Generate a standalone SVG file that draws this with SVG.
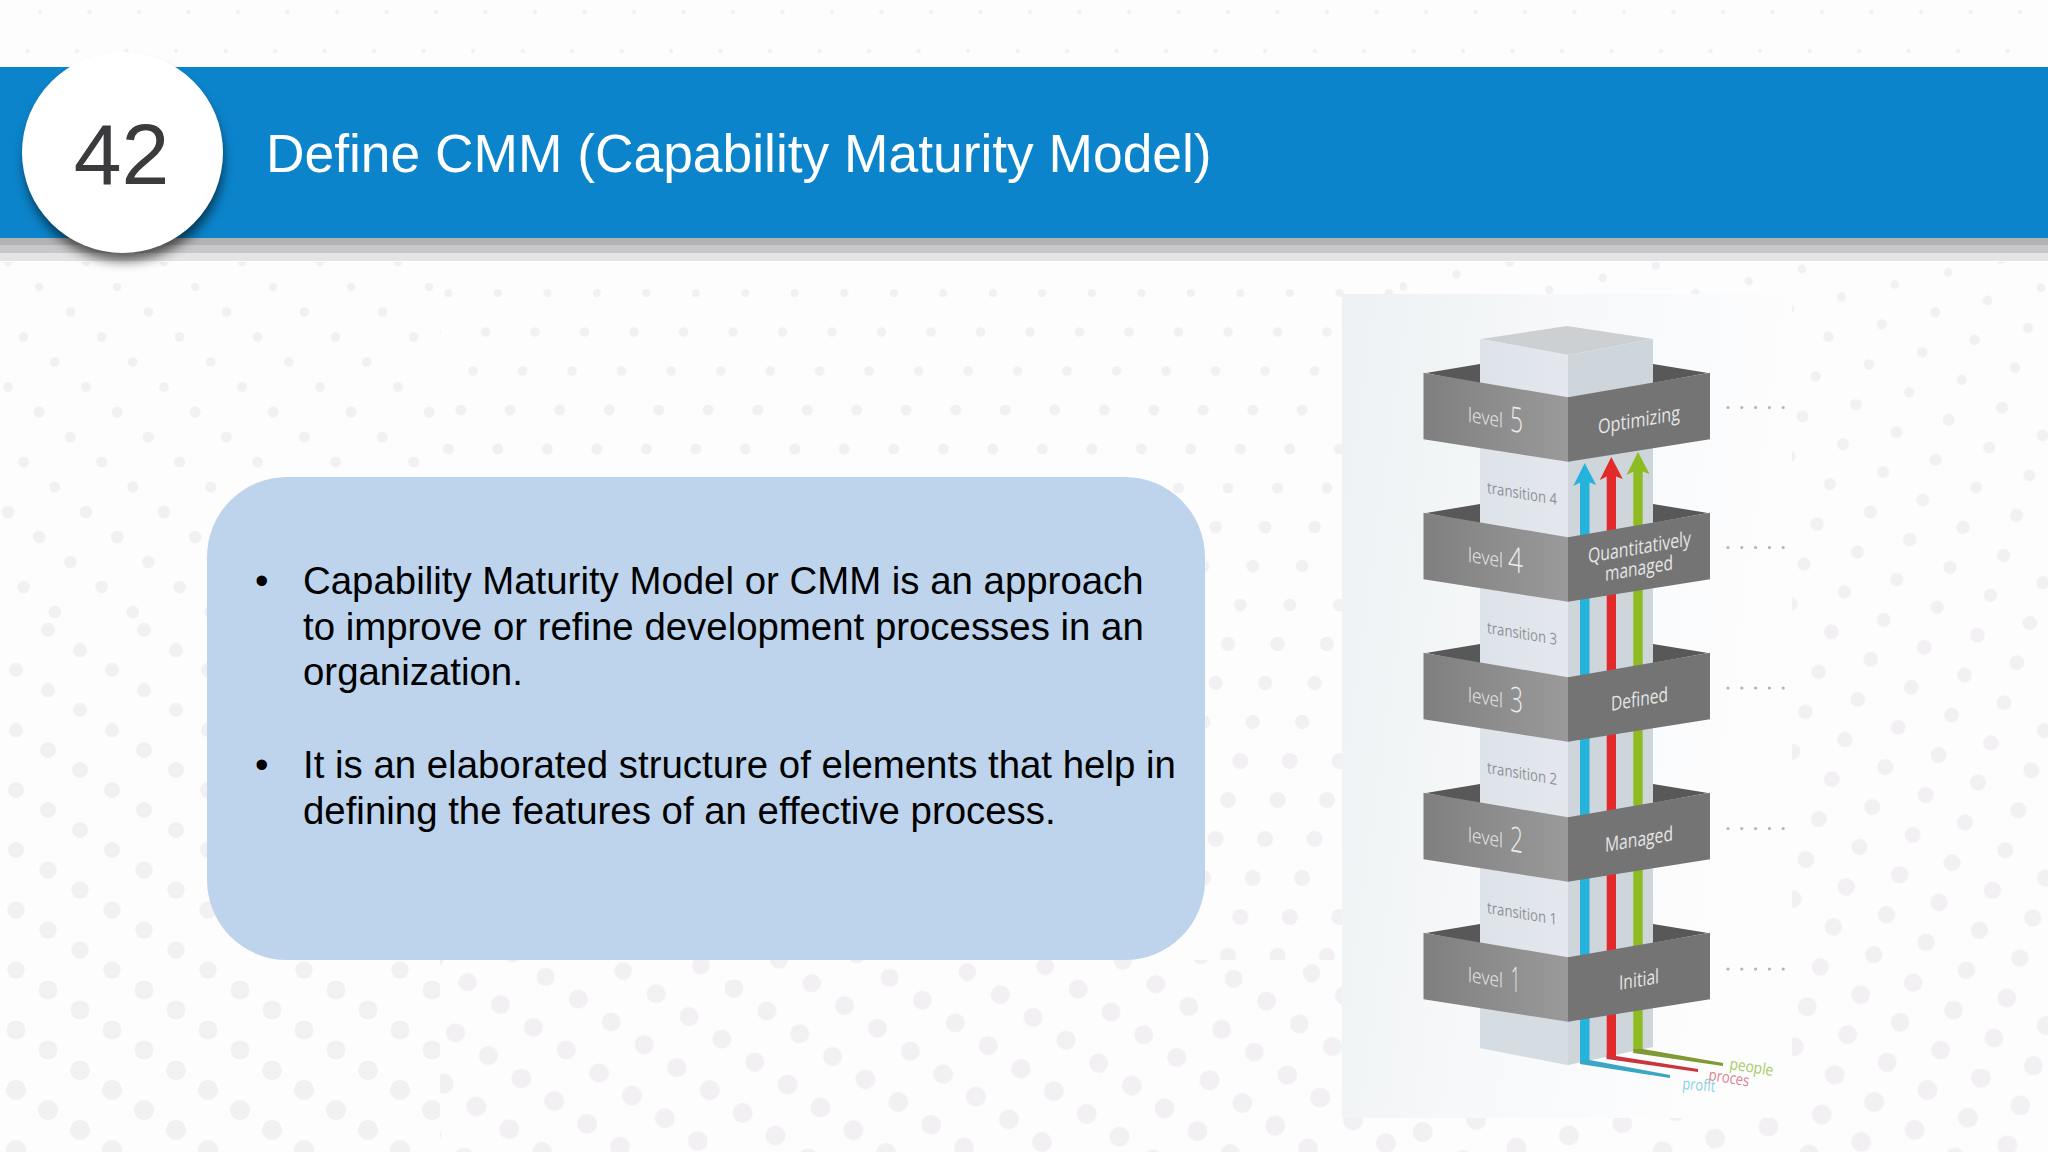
<svg xmlns="http://www.w3.org/2000/svg" width="2048" height="1152" viewBox="0 0 2048 1152">
<style>
.sans{font-family:"Liberation Sans",Arial,sans-serif}
.ui{font-family:"Open Sans","Noto Sans",sans-serif}
.d{r:var(--r);fill:#f2f0f3}
.body{font-size:38.4px;fill:#000}
.lv{font-size:20px;fill:#ececec;font-weight:300}
.num{font-size:35px;fill:#ececec;font-weight:300}
.st{font-size:20px;fill:#e6e6e6}
.tr{font-size:16px;fill:#8d9297}
.leader{stroke:#b4b4b4;stroke-width:3.2;stroke-linecap:round;stroke-dasharray:0 13.8;fill:none}
.back{fill:#585858}
.lf{fill:url(#lf)}
.rf{fill:#747474}
</style>
<defs>
<g id="tC"><circle class="d" cx="40" cy="20"/><circle class="d" cx="-9.5" cy="20"/><circle class="d" cx="27.6" cy="59"/><circle class="d" cx="15.2" cy="98"/><circle class="d" cx="2.8" cy="137"/><circle class="d" cx="52.3" cy="137"/></g>
<g id="tU"><circle class="d" cx="8" cy="12"/><circle class="d" cx="86" cy="12"/><circle class="d" cx="39.2" cy="37"/><circle class="d" cx="70.4" cy="62"/><circle class="d" cx="-7.6" cy="62"/><circle class="d" cx="23.6" cy="87"/><circle class="d" cx="54.8" cy="112"/></g>
<g id="tL"><circle class="d" cx="16" cy="10"/><circle class="d" cx="48" cy="30"/><circle class="d" cx="80" cy="50"/></g>
<g id="tR"><circle class="d" cx="23" cy="7"/><circle class="d" cx="23" cy="49"/><circle class="d" cx="70" cy="21"/><circle class="d" cx="117" cy="35"/><circle class="d" cx="117" cy="-7"/></g>
<pattern id="c0" width="49.5" height="156" patternUnits="userSpaceOnUse" patternTransform="translate(0 -8)" style="--r:2.2px"><use href="#tC"/></pattern>
<pattern id="c1" width="49.5" height="156" patternUnits="userSpaceOnUse" style="--r:4px"><use href="#tC"/></pattern>
<pattern id="c2" width="49.5" height="156" patternUnits="userSpaceOnUse" style="--r:4.8px"><use href="#tC"/></pattern>
<pattern id="c3" width="49.5" height="156" patternUnits="userSpaceOnUse" style="--r:5.5px"><use href="#tC"/></pattern>
<pattern id="c4" width="49.5" height="156" patternUnits="userSpaceOnUse" style="--r:6.3px"><use href="#tC"/></pattern>
<pattern id="c5" width="49.5" height="156" patternUnits="userSpaceOnUse" style="--r:7.2px"><use href="#tC"/></pattern>
<pattern id="c6" width="49.5" height="156" patternUnits="userSpaceOnUse" style="--r:8px"><use href="#tC"/></pattern>
<pattern id="u1" width="78" height="125" patternUnits="userSpaceOnUse" style="--r:4.2px"><use href="#tU"/></pattern>
<pattern id="u2" width="78" height="125" patternUnits="userSpaceOnUse" style="--r:4.8px"><use href="#tU"/></pattern>
<pattern id="u3" width="78" height="125" patternUnits="userSpaceOnUse" style="--r:5.5px"><use href="#tU"/></pattern>
<pattern id="u4" width="78" height="125" patternUnits="userSpaceOnUse" style="--r:6.3px"><use href="#tU"/></pattern>
<pattern id="b1" width="78" height="125" patternUnits="userSpaceOnUse" patternTransform="rotate(-4)" style="--r:8.8px"><use href="#tU"/></pattern>
<pattern id="b2" width="78" height="125" patternUnits="userSpaceOnUse" patternTransform="rotate(-4)" style="--r:9.5px"><use href="#tU"/></pattern>
<pattern id="b3" width="78" height="125" patternUnits="userSpaceOnUse" patternTransform="rotate(-4)" style="--r:10px"><use href="#tU"/></pattern>
<pattern id="l1" width="96" height="60" patternUnits="userSpaceOnUse" style="--r:7.2px"><use href="#tL"/></pattern>
<pattern id="l2" width="96" height="60" patternUnits="userSpaceOnUse" style="--r:8px"><use href="#tL"/></pattern>
<pattern id="l3" width="96" height="60" patternUnits="userSpaceOnUse" style="--r:8.7px"><use href="#tL"/></pattern>
<pattern id="l4" width="96" height="60" patternUnits="userSpaceOnUse" style="--r:9.4px"><use href="#tL"/></pattern>
<pattern id="l5" width="96" height="60" patternUnits="userSpaceOnUse" style="--r:10px"><use href="#tL"/></pattern>
<pattern id="r1" width="140" height="42" patternUnits="userSpaceOnUse" patternTransform="rotate(18)" style="--r:4.4px"><use href="#tR"/></pattern>
<pattern id="r2" width="140" height="42" patternUnits="userSpaceOnUse" patternTransform="rotate(18)" style="--r:5.2px"><use href="#tR"/></pattern>
<pattern id="r3" width="140" height="42" patternUnits="userSpaceOnUse" patternTransform="rotate(18)" style="--r:6px"><use href="#tR"/></pattern>
<pattern id="r4" width="140" height="42" patternUnits="userSpaceOnUse" patternTransform="rotate(18)" style="--r:6.7px"><use href="#tR"/></pattern>
<pattern id="r5" width="140" height="42" patternUnits="userSpaceOnUse" patternTransform="rotate(18)" style="--r:7.4px"><use href="#tR"/></pattern>
<pattern id="r6" width="140" height="42" patternUnits="userSpaceOnUse" patternTransform="rotate(18)" style="--r:8px"><use href="#tR"/></pattern>
<pattern id="r7" width="140" height="42" patternUnits="userSpaceOnUse" patternTransform="rotate(18)" style="--r:8.7px"><use href="#tR"/></pattern>
<pattern id="r8" width="140" height="42" patternUnits="userSpaceOnUse" patternTransform="rotate(18)" style="--r:9.4px"><use href="#tR"/></pattern>
<pattern id="r9" width="140" height="42" patternUnits="userSpaceOnUse" patternTransform="rotate(18)" style="--r:10px"><use href="#tR"/></pattern>
<linearGradient id="panel" x1="0" y1="0" x2="1" y2="0.25"><stop offset="0" stop-color="#edf1f3"/><stop offset="0.45" stop-color="#f6f8f9"/><stop offset="1" stop-color="#fdfdfe"/></linearGradient>
<linearGradient id="lf" x1="0" y1="0" x2="1" y2="0"><stop offset="0" stop-color="#7f7f7f"/><stop offset="1" stop-color="#9a9a9a"/></linearGradient>
<linearGradient id="colL" x1="0" y1="0" x2="1" y2="0"><stop offset="0" stop-color="#dde3e9"/><stop offset="1" stop-color="#e4e8ee"/></linearGradient>
<filter id="blur" x="-30%" y="-30%" width="160%" height="160%"><feGaussianBlur stdDeviation="6"/></filter>
<polygon id="head" points="0,-19 11.5,3 3.4,0 -3.4,0 -11.5,4"/>
</defs>

<rect width="2048" height="1152" fill="#fefdfe"/>
<g id="background-dots">
<rect y="0" width="2048" height="66" fill="url(#c0)"/>
<rect y="262" width="440" height="38" fill="url(#u1)"/>
<rect y="300" width="440" height="100" fill="url(#u2)"/>
<rect y="400" width="440" height="100" fill="url(#u3)"/>
<rect y="500" width="440" height="120" fill="url(#u4)"/>
<rect y="620" width="440" height="120" fill="url(#l1)"/>
<rect y="740" width="440" height="120" fill="url(#l2)"/>
<rect y="860" width="440" height="120" fill="url(#l3)"/>
<rect y="980" width="440" height="90" fill="url(#l4)"/>
<rect y="1070" width="440" height="82" fill="url(#l5)"/>
<rect x="440" y="262" width="960" height="38" fill="url(#c1)"/>
<rect x="440" y="300" width="960" height="100" fill="url(#c2)"/>
<rect x="440" y="400" width="960" height="100" fill="url(#c3)"/>
<rect x="1205" y="500" width="195" height="120" fill="url(#c4)"/>
<rect x="1205" y="620" width="195" height="120" fill="url(#c5)"/>
<rect x="1205" y="740" width="195" height="220" fill="url(#c6)"/>
<rect x="440" y="960" width="960" height="20" fill="url(#b1)"/>
<rect x="440" y="980" width="960" height="90" fill="url(#b2)"/>
<rect x="440" y="1070" width="960" height="82" fill="url(#b3)"/>
<rect x="1400" y="262" width="648" height="38" fill="url(#r1)"/>
<rect x="1400" y="300" width="648" height="100" fill="url(#r2)"/>
<rect x="1400" y="400" width="648" height="100" fill="url(#r3)"/>
<rect x="1400" y="500" width="648" height="120" fill="url(#r4)"/>
<rect x="1400" y="620" width="648" height="120" fill="url(#r5)"/>
<rect x="1400" y="740" width="648" height="120" fill="url(#r6)"/>
<rect x="1400" y="860" width="648" height="120" fill="url(#r7)"/>
<rect x="1400" y="980" width="648" height="90" fill="url(#r8)"/>
<rect x="1400" y="1070" width="648" height="82" fill="url(#r9)"/>
</g>

<g id="header">
<rect y="238" width="2048" height="7" fill="#b4b3b4"/>
<rect y="245" width="2048" height="8" fill="#c9c7c9"/>
<rect y="253" width="2048" height="8" fill="#e4e3e5"/>
<rect y="67" width="2048" height="171" fill="#0c84cb"/>
<text class="sans" x="266" y="172" font-size="53.35" fill="#fff">Define CMM (Capability Maturity Model)</text>
</g>
<g id="number-badge">
<circle cx="124" cy="162" r="99" fill="#000" opacity="0.6" filter="url(#blur)"/>
<circle cx="122.5" cy="152.5" r="100.5" fill="#fff"/>
<text class="sans" x="121.5" y="184" font-size="86" fill="#3b3a3c" text-anchor="middle">42</text>
</g>

<g id="text-card">
<rect x="207" y="477" width="998" height="483" rx="80" ry="80" fill="#bdd4ec"/>
<g class="sans body">
<text x="255" y="594">•</text>
<text x="303" y="594">Capability Maturity Model or CMM is an approach</text>
<text x="303" y="640">to improve or refine development processes in an</text>
<text x="303" y="685">organization.</text>
<text x="255" y="778">•</text>
<text x="303" y="778">It is an elaborated structure of elements that help in</text>
<text x="303" y="824">defining the features of an effective process.</text>
</g>
</g>

<g id="cmm-tower">
<rect x="1342" y="294" width="450" height="824" fill="url(#panel)"/>
<g id="band-backs">
<polygon class="back" points="1426,373 1480,364 1480,384"/><polygon class="back" points="1653,364 1708,373 1653,383"/>
<polygon class="back" points="1426,513 1480,504 1480,524"/><polygon class="back" points="1653,504 1708,513 1653,523"/>
<polygon class="back" points="1426,653 1480,644 1480,664"/><polygon class="back" points="1653,644 1708,653 1653,663"/>
<polygon class="back" points="1426,793 1480,784 1480,804"/><polygon class="back" points="1653,784 1708,793 1653,803"/>
<polygon class="back" points="1426,933 1480,924 1480,944"/><polygon class="back" points="1653,924 1708,933 1653,943"/>
</g>
<g id="column">
<polygon points="1481,339 1567,326 1653,339 1568,355" fill="#ccd0d3"/>
<polygon points="1480,339 1568,355 1568,1065 1480,1048" fill="url(#colL)"/>
<polygon points="1653,339 1568,355 1568,1065 1653,1047" fill="#cfd6db"/>
<polygon points="1480,1000 1568,1015 1568,1065 1480,1048" fill="#d5dde2"/>
</g>
</g>

<g id="connectors">
<g id="profit-arrow" fill="#25b3dc">
<polygon points="1580,480 1589.5,480 1589.5,1060 1580,1063"/>
<polygon points="1580,1060 1589.5,1060 1670,1075 1670,1078 1580,1064" fill="#3aa6c4"/>
<use href="#head" x="1584.7" y="482"/>
</g>
<g id="process-arrow" fill="#e32a2b">
<polygon points="1606.7,476 1616,476 1616,1056 1606.7,1058"/>
<polygon points="1606.7,1055 1616,1056 1698,1069 1698,1072 1606.7,1059" fill="#c9353d"/>
<use href="#head" x="1611.3" y="476"/>
</g>
<g id="people-arrow" fill="#8ebb22">
<polygon points="1633.3,470 1642.7,470 1642.7,1049 1633.3,1052"/>
<polygon points="1633.3,1049 1642.7,1049 1723,1063 1723,1066 1633.3,1053" fill="#7f9a35"/>
<use href="#head" x="1638" y="471"/>
</g>
</g>

<g id="transition-labels" class="ui tr">
<text transform="translate(1487 493) skewY(9.7)" textLength="70" lengthAdjust="spacingAndGlyphs">transition 4</text>
<text transform="translate(1487 633) skewY(9.7)" textLength="70" lengthAdjust="spacingAndGlyphs">transition 3</text>
<text transform="translate(1487 773) skewY(9.7)" textLength="70" lengthAdjust="spacingAndGlyphs">transition 2</text>
<text transform="translate(1487 913) skewY(9.7)" textLength="70" lengthAdjust="spacingAndGlyphs">transition 1</text>
</g>

<g id="level-5">
<polygon class="lf" points="1423.5,372.7 1568,397.3 1568,461.7 1423.5,439.3"/>
<polygon class="rf" points="1710,372.7 1568,397.3 1568,461.7 1710,439.3"/>
<text class="ui lv" transform="translate(1468 421.7) skewY(9.7)" textLength="35" lengthAdjust="spacingAndGlyphs">level</text>
<text class="ui num" transform="translate(1510 431) skewY(9.7)" textLength="13" lengthAdjust="spacingAndGlyphs">5</text>
<text class="ui st" transform="translate(1598 434) skewY(-9.8)" textLength="82" lengthAdjust="spacingAndGlyphs">Optimizing</text>
</g>
<g id="level-4">
<polygon class="lf" points="1423.5,512.7 1568,537.3 1568,601.7 1423.5,579.3"/>
<polygon class="rf" points="1710,512.7 1568,537.3 1568,601.7 1710,579.3"/>
<text class="ui lv" transform="translate(1468 561.7) skewY(9.7)" textLength="35" lengthAdjust="spacingAndGlyphs">level</text>
<text class="ui num" transform="translate(1508 571) skewY(9.7)" textLength="15" lengthAdjust="spacingAndGlyphs">4</text>
<text class="ui st" transform="translate(1588 563) skewY(-9.8)" textLength="103" lengthAdjust="spacingAndGlyphs">Quantitatively</text>
<text class="ui st" transform="translate(1605 581) skewY(-9.8)" textLength="68" lengthAdjust="spacingAndGlyphs">managed</text>
</g>
<g id="level-3">
<polygon class="lf" points="1423.5,652.7 1568,677.3 1568,741.7 1423.5,719.3"/>
<polygon class="rf" points="1710,652.7 1568,677.3 1568,741.7 1710,719.3"/>
<text class="ui lv" transform="translate(1468 701.7) skewY(9.7)" textLength="35" lengthAdjust="spacingAndGlyphs">level</text>
<text class="ui num" transform="translate(1510 711) skewY(9.7)" textLength="13" lengthAdjust="spacingAndGlyphs">3</text>
<text class="ui st" transform="translate(1611 711) skewY(-9.8)" textLength="57" lengthAdjust="spacingAndGlyphs">Defined</text>
</g>
<g id="level-2">
<polygon class="lf" points="1423.5,792.7 1568,817.3 1568,881.7 1423.5,859.3"/>
<polygon class="rf" points="1710,792.7 1568,817.3 1568,881.7 1710,859.3"/>
<text class="ui lv" transform="translate(1468 841.7) skewY(9.7)" textLength="35" lengthAdjust="spacingAndGlyphs">level</text>
<text class="ui num" transform="translate(1510 851) skewY(9.7)" textLength="13" lengthAdjust="spacingAndGlyphs">2</text>
<text class="ui st" transform="translate(1605 852) skewY(-9.8)" textLength="68" lengthAdjust="spacingAndGlyphs">Managed</text>
</g>
<g id="level-1">
<polygon class="lf" points="1423.5,932.7 1568,957.3 1568,1021.7 1423.5,999.3"/>
<polygon class="rf" points="1710,932.7 1568,957.3 1568,1021.7 1710,999.3"/>
<text class="ui lv" transform="translate(1468 981.7) skewY(9.7)" textLength="35" lengthAdjust="spacingAndGlyphs">level</text>
<text class="ui num" transform="translate(1511 991) skewY(9.7)" textLength="9" lengthAdjust="spacingAndGlyphs">1</text>
<text class="ui st" transform="translate(1619 990) skewY(-9.8)" textLength="40" lengthAdjust="spacingAndGlyphs">Initial</text>
</g>
<g id="leaders">
<path class="leader" d="M1728 407.5H1785"/>
<path class="leader" d="M1728 547.5H1785"/>
<path class="leader" d="M1728 688H1785"/>
<path class="leader" d="M1728 828.5H1785"/>
<path class="leader" d="M1728 969H1785"/>
</g>
<g id="stream-labels" class="ui" font-size="16">
<text transform="translate(1729 1069) rotate(9)" fill="#a6cb62" textLength="44" lengthAdjust="spacingAndGlyphs">people</text>
<text transform="translate(1708 1080) rotate(9)" fill="#dd7f8e" textLength="41" lengthAdjust="spacingAndGlyphs">proces</text>
<text transform="translate(1682 1089) rotate(5)" fill="#86d2e4" textLength="33" lengthAdjust="spacingAndGlyphs">profit</text>
</g>
</svg>
